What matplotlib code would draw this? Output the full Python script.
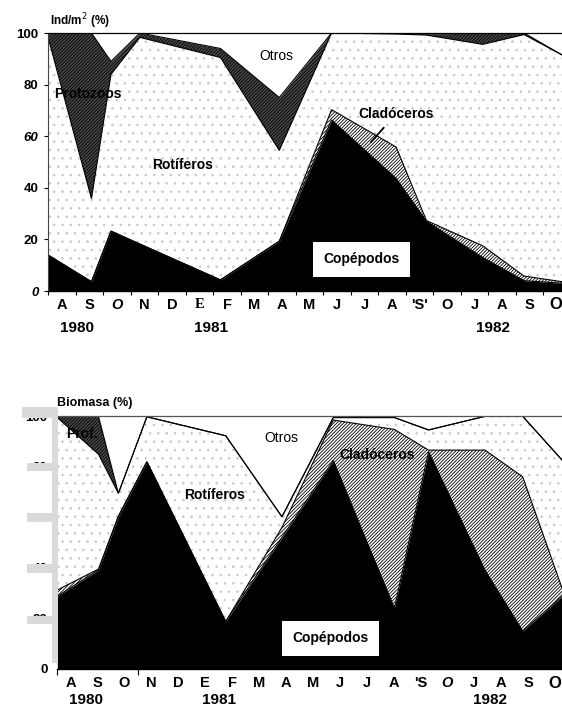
import matplotlib
matplotlib.use('Agg')
import matplotlib.pyplot as plt
from matplotlib.patches import Rectangle
import numpy as np

plt.rcParams['font.family'] = ['Liberation Sans', 'DejaVu Sans']
plt.rcParams['hatch.linewidth'] = 0.6

# ---------------- data ----------------
months_top = ["A", "S", "O", "N", "D", "E", "F", "M", "A", "M", "J", "J",
              "A", "'S'", "O", "J", "A", "S", "O"]
months_bot = ["A", "S", "O", "N", "D", "E", "F", "M", "A", "M", "J", "J",
              "A", "'S", "O", "J", "A", "S", "O"]
years = ["1980", "1981", "1982"]
year_pos_top = [1.04, 5.93, 16.16]
year_pos_bot = [1.07, 6.0, 16.1]
yticks = [0, 20, 40, 60, 80, 100]
series_names = ["Copépodos", "Cladóceros", "Rotíferos", "Protozoos", "Otros"]

# Top panel: Ind/m2 (%)  (sampling positions in month units)
t_top = [0, 1.57, 2.28, 3.33, 6.26, 8.4, 10.3, 12.65, 13.75, 15.8, 17.3, 18.68]
cop_top = [13.9, 3.6, 23.2, 18.2, 4.3, 19.3, 66.3, 43.6, 27.0, 13.0, 4.0, 3.0]
clad_top = [0, 0, 0, 0, 0, 0, 4.0, 12.2, 0.3, 4.5, 1.8, 0.6]
rot_top = [84.1, 32.2, 60.8, 80.1, 86.2, 35.2, 29.7, 43.8, 71.9, 78.1, 93.6, 87.9]
prot_top = [2.0, 64.2, 5.0, 1.7, 3.5, 20.5, 0, 0.4, 0.4, 4.4, 0.6, 0]
otros_top = [0, 0, 11.0, 0, 6.0, 25.0, 0, 0, 0.4, 0, 0, 8.5]

# Bottom panel: Biomasa (%)
t_bot = [0, 1.53, 2.27, 3.33, 6.26, 8.35, 10.26, 12.53, 13.8, 15.9, 17.3, 18.76]
cop_bot = [28.8, 39.1, 60.2, 82.0, 18.7, 52.0, 82.5, 24.0, 86.0, 39.0, 15.0, 28.6]
clad_bot = [2.4, 0.4, 0.3, 0, 0, 4.0, 16.0, 70.8, 0.6, 47.6, 61.0, 3.4]
rot_bot = [68.3, 45.5, 9.0, 17.8, 73.6, 4.2, 1.0, 4.7, 8.0, 13.4, 24.0, 50.7]
prot_bot = [0.5, 15.0, 0, 0, 0, 0, 0, 0, 0, 0, 0, 0]
otros_bot = [0, 0, 30.5, 0.2, 7.7, 39.8, 0.5, 0.5, 5.4, 0, 0, 17.3]

# ---------------- styles ----------------
styles = [
    dict(facecolor='black', edgecolor='black'),
    dict(facecolor='white', edgecolor='black', hatch='/' * 10),
    dict(facecolor='white', edgecolor='#c8c8c8', hatch='..'),
    dict(facecolor='#4a4a4a', edgecolor='black', hatch='/' * 10),
    dict(facecolor='white', edgecolor='white'),
]

W, H = 562, 707
fig = plt.figure(figsize=(W / 100, H / 100), dpi=100)
ax1 = fig.add_axes([48.3 / W, 1 - 291 / H, (W - 48.3) / W, 258 / H])
ax2 = fig.add_axes([57.3 / W, 1 - 668.8 / H, (W - 57.3) / W, 252.5 / H])


def draw_stack(ax, t, layers):
    t = np.asarray(t, dtype=float)
    base = np.zeros(len(t))
    tops = []
    for vals, st in zip(layers, styles):
        top = base + np.asarray(vals, dtype=float)
        ax.fill_between(t, base, top, linewidth=0, **st)
        tops.append(top)
        base = top
    for top in tops[:-1]:
        ax.plot(t, top, color='black', lw=0.8, solid_joinstyle='miter')


draw_stack(ax1, t_top, [cop_top, clad_top, rot_top, prot_top, otros_top])
draw_stack(ax2, t_bot, [cop_bot, clad_bot, rot_bot, prot_bot, otros_bot])

fs_month = 10.5
for ax, months, xmax, ymon, yyr, ypos, special in [
        (ax1, months_top, 18.68, -0.054, -0.143, year_pos_top,
         {2: dict(style='italic'), 5: dict(family='Liberation Serif'),
          18: dict(fontsize=12, ha='right', xoff=0.7)}),
        (ax2, months_bot, 18.76, -0.057, -0.124, year_pos_bot,
         {14: dict(style='italic'), 18: dict(fontsize=12, ha='right', xoff=0.74)})]:
    ax.set_xlim(0, xmax)
    ax.set_ylim(0, 100)
    ax.set_xticklabels([])
    tr = ax.get_xaxis_transform()
    for i, m in enumerate(months):
        kw = dict(fontsize=fs_month, fontweight='bold', ha='center')
        kw.update(special.get(i, {}))
        xoff = kw.pop('xoff', 0.5)
        ax.text(i + xoff, ymon, m, transform=tr, va='center',
                clip_on=False, **kw)
    for yp, yl in zip(ypos, years):
        ax.text(yp, yyr, yl, transform=tr, ha='center', va='center',
                fontsize=11, fontweight='bold', clip_on=False)
    ax.spines['right'].set_visible(False)
    ax.spines['top'].set_linewidth(0.9)
    ax.spines['bottom'].set_linewidth(1.0)

# top axes ticks
ax1.set_xticks(range(0, 19))
ax1.tick_params(axis='x', direction='out', length=3, width=0.8)
ax1.set_yticks(yticks)
ax1.set_yticklabels([str(v) for v in yticks], fontweight='bold', fontsize=9.5)
for lab, v in zip(ax1.get_yticklabels(), yticks):
    if v in (0, 60):
        lab.set_style('italic')
ax1.tick_params(axis='y', direction='out', length=3, width=0.8, pad=4)
ax1.spines['left'].set_linewidth(0.8)
ax1.spines['left'].set_color('#444444')

# bottom axes ticks
ax2.set_xticks([0, 3])
ax2.tick_params(axis='x', direction='out', length=4, width=0.8)
ax2.set_yticks(yticks)
ax2.set_yticklabels([str(v) for v in yticks], fontweight='bold', fontsize=9.5)
ax2.tick_params(axis='y', direction='out', length=0, pad=7)
ax2.spines['left'].set_visible(False)
ax2.spines['top'].set_color('#555555')

# axis titles
ax1.text(0.003, 1.044, "Ind/m$^2$ (%)", transform=ax1.transAxes,
         ha='left', va='center', fontsize=8.5, fontweight='bold')
ax2.text(0.0, 1.053, "Biomasa (%)", transform=ax2.transAxes,
         ha='left', va='center', fontsize=9, fontweight='bold')

# series labels, top
ax1.text(1.44, 76.4, "Protozoos", ha='center', va='center', fontsize=10,
         fontweight='bold')
ax1.text(8.28, 91.2, "Otros", ha='center', va='center', fontsize=10)
ax1.text(4.89, 49.0, "Rotíferos", ha='center', va='center', fontsize=10,
         fontweight='bold')
ax1.annotate("Cladóceros", xy=(11.73, 57.7), xytext=(12.65, 68.7),
             ha='center', va='center', fontsize=10, fontweight='bold',
             arrowprops=dict(arrowstyle='-', lw=1.3, color='black',
                             shrinkA=4, shrinkB=0))
ax1.text(11.4, 12.3, "Copépodos", ha='center', va='center', fontsize=10,
         fontweight='bold',
         bbox=dict(boxstyle='square,pad=0.75', facecolor='white',
                   edgecolor='none'))

# series labels, bottom
ax2.text(0.9, 92.9, "Prof.", ha='center', va='center', fontsize=10,
         fontweight='bold')
ax2.text(8.34, 91.3, "Otros", ha='center', va='center', fontsize=10)
ax2.text(5.83, 68.8, "Rotíferos", ha='center', va='center', fontsize=10,
         fontweight='bold')
ax2.text(11.89, 84.7, "Cladóceros", ha='center', va='center', fontsize=10,
         fontweight='bold')
ax2.text(10.16, 12.1, "Copépodos", ha='center', va='center', fontsize=10,
         fontweight='bold',
         bbox=dict(boxstyle='square,pad=0.75', facecolor='white',
                   edgecolor='none'))

# grey scan artefact over the lower panel's y labels
grey = '#dadada'
def grect(x0, y0, x1, y1):
    fig.add_artist(Rectangle((x0 / W, 1 - y1 / H), (x1 - x0) / W,
                             (y1 - y0) / H, transform=fig.transFigure,
                             facecolor=grey, edgecolor='none', zorder=3))
grect(51.7, 406.7, 58.3, 663)
grect(21.7, 406.7, 58.3, 418.3)
grect(26.7, 462.5, 55, 471)
grect(26.7, 513, 55, 521.5)
grect(26.7, 564, 55, 573)
grect(26.7, 615.5, 55, 624)

fig.savefig('out.png', dpi=100)
